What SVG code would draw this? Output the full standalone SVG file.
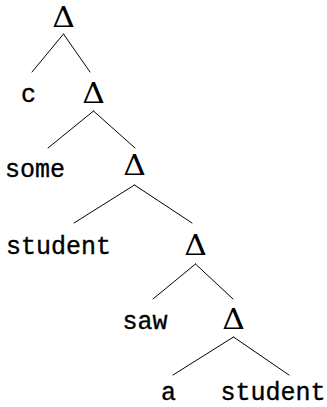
<svg xmlns="http://www.w3.org/2000/svg" width="327" height="407" viewBox="0 0 327 407">
  <style>
    .leaf { font-family: "Liberation Mono", "DejaVu Sans Mono", monospace; font-size: 25px; fill: #000; stroke: #000; stroke-width: 0.35; text-anchor: middle; }
    .delta { font-family: "DejaVu Serif", "Liberation Serif", serif; font-size: 28px; fill: #000; text-anchor: middle; }
    .edge { stroke: #000; stroke-width: 1; fill: none; stroke-linecap: round; }
  </style>
  <rect width="327" height="407" fill="#fff"/>

  <!-- branches -->
  <g id="edges">
    <path class="edge" d="M63.5,34 L32,72 M63.5,34 L90,72"/>
    <path class="edge" d="M93.5,111 L48,148 M93.5,111 L135,148"/>
    <path class="edge" d="M134.5,185 L74,223 M134.5,185 L192,223"/>
    <path class="edge" d="M195.5,264 L153,299 M195.5,264 L233,299"/>
    <path class="edge" d="M233.5,337 L173,375 M233.5,337 L289,375"/>
  </g>

  <!-- internal nodes: capital delta, slightly widened -->
  <g id="n1"><text class="delta" transform="translate(63.5 27) scale(1.12 1)">Δ</text></g>
  <g id="n2"><text class="delta" transform="translate(93.5 103) scale(1.12 1)">Δ</text></g>
  <g id="n3"><text class="delta" transform="translate(134.5 175) scale(1.12 1)">Δ</text></g>
  <g id="n4"><text class="delta" transform="translate(195.5 255) scale(1.12 1)">Δ</text></g>
  <g id="n5"><text class="delta" transform="translate(233.5 329) scale(1.12 1)">Δ</text></g>

  <!-- leaves -->
  <g id="leaf-c"><text class="leaf" x="28.5" y="102">c</text></g>
  <g id="leaf-some"><text class="leaf" x="35" y="177">some</text></g>
  <g id="leaf-student1"><text class="leaf" x="58.5" y="254">student</text></g>
  <g id="leaf-saw"><text class="leaf" x="145" y="329">saw</text></g>
  <g id="leaf-a"><text class="leaf" x="168.5" y="400">a</text></g>
  <g id="leaf-student2"><text class="leaf" x="273" y="400">student</text></g>
</svg>
